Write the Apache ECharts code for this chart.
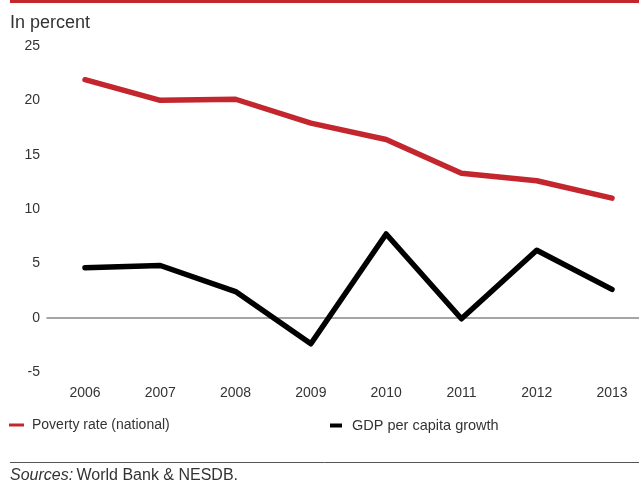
<!DOCTYPE html>
<html>
<head>
<meta charset="utf-8">
<script src="https://cdn.jsdelivr.net/npm/echarts@6/dist/echarts.min.js"></script>
<style>
html,body{margin:0;padding:0;background:#fff;}
#chart{width:639px;height:482px;}
</style>
</head>
<body>
<div id="chart"></div>
<script>
const years = ['2006','2007','2008','2009','2010','2011','2012','2013'];
const povertyRate = [21.9, 20.0, 20.1, 17.9, 16.4, 13.3, 12.6, 11.0];
const gdpGrowth = [4.6, 4.8, 2.4, -2.4, 7.7, -0.1, 6.2, 2.6];
const yTicks = { min: -5, max: 25, interval: 5 };

const FONT = '"Liberation Sans", Arial, sans-serif';
const chart = echarts.init(document.getElementById('chart'), null, {renderer:'canvas'});
chart.setOption({
  animation: false,
  textStyle: { fontFamily: FONT },
  grid: [
    { left: 47, right: 0, top: 46, bottom: 110, containLabel: false },
    { left: 85, right: 27, top: 46, bottom: 110, containLabel: false }
  ],
  xAxis: [
    { gridIndex: 0, type: 'category', data: years, boundaryGap: true,
      axisLine: { onZero: true, lineStyle: { color: '#888', width: 1.5 } },
      axisTick: { show: false }, axisLabel: { show: false } },
    { gridIndex: 1, type: 'category', data: years, boundaryGap: false, position: 'bottom',
      axisLine: { show: false, onZero: false }, axisTick: { show: false },
      axisLabel: { color: '#333', fontSize: 14, fontFamily: FONT, margin: 14 } }
  ],
  yAxis: [
    { gridIndex: 0, type: 'value', min: yTicks.min, max: yTicks.max, interval: yTicks.interval,
      axisLine: { show: false }, axisTick: { show: false }, splitLine: { show: false },
      axisLabel: { color: '#333', fontSize: 14, fontFamily: FONT, margin: 7 } },
    { gridIndex: 1, type: 'value', min: yTicks.min, max: yTicks.max, interval: yTicks.interval,
      axisLine: { show: false }, axisTick: { show: false }, splitLine: { show: false },
      axisLabel: { show: false } }
  ],
  legend: [
    { data: ['Poverty rate (national)'], left: 9, top: 418, padding: 0, icon: 'rect', itemWidth: 15, itemHeight: 3,
      textStyle: { color: '#333', fontSize: 14, fontFamily: FONT, padding: [0,0,0,3] } },
    { data: ['GDP per capita growth'], left: 330, top: 418, padding: 0, icon: 'rect', itemWidth: 12, itemHeight: 4,
      textStyle: { color: '#333', fontSize: 14.5, fontFamily: FONT, padding: [0,0,0,5] } }
  ],
  series: [
    { name: 'Poverty rate (national)', type: 'line', xAxisIndex: 1, yAxisIndex: 1, data: povertyRate, symbol: 'none',
      lineStyle: { color: '#c4262e', width: 5.5, cap: 'round', join: 'round' }, itemStyle: { color: '#c4262e' } },
    { name: 'GDP per capita growth', type: 'line', xAxisIndex: 1, yAxisIndex: 1, data: gdpGrowth, symbol: 'none',
      lineStyle: { color: '#000', width: 5.5, cap: 'round', join: 'round' }, itemStyle: { color: '#000' } }
  ],
  graphic: [
    { type: 'rect', shape: { x: 10, y: 0, width: 629, height: 3 }, style: { fill: '#c4262e' } },
    { type: 'text', left: 10, top: 14, style: { text: 'In percent', fill: '#333', font: '18px ' + FONT } },
    { type: 'line', shape: { x1: 10, y1: 462.5, x2: 639, y2: 462.5 }, style: { stroke: '#555', lineWidth: 1 } },
    { type: 'text', left: 10, top: 468, style: { rich: {
        i: { fontStyle: 'italic', fontSize: 16, fill: '#333', fontFamily: FONT },
        n: { fontSize: 16, fill: '#333', fontFamily: FONT } },
      text: '{i|Sources:} {n|World Bank & NESDB.}' } }
  ]
});
</script>
</body>
</html>
